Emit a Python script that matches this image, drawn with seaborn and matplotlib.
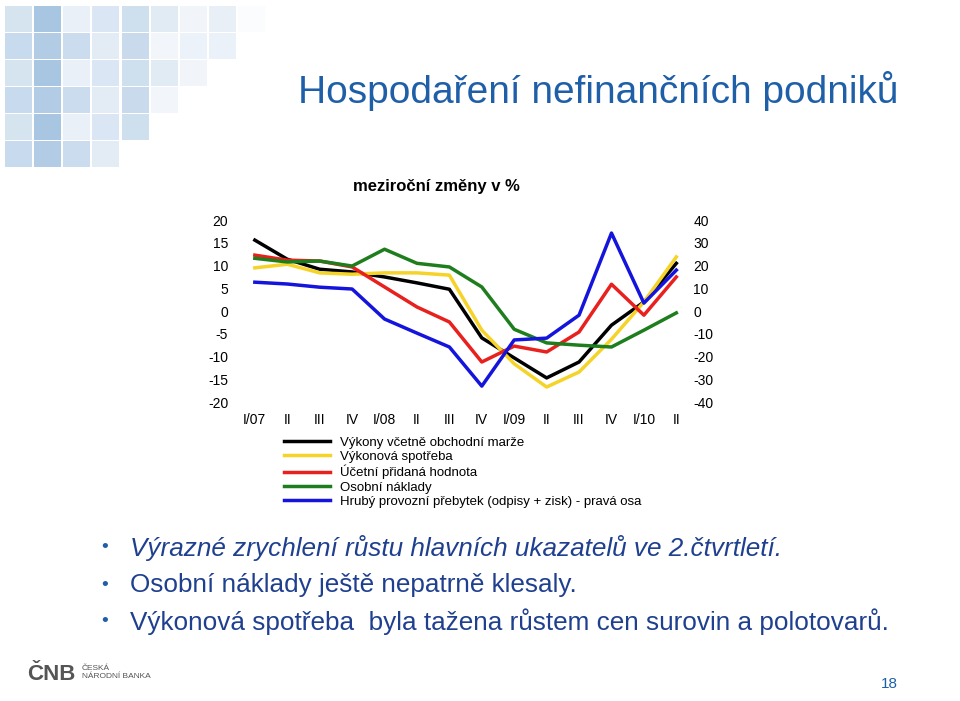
import matplotlib
matplotlib.use("Agg")
import matplotlib.pyplot as plt
import seaborn as sns
from matplotlib.patches import Rectangle

quarters = ["I/07","II","III","IV","I/08","II","III","IV","I/09","II","III","IV","I/10","II"]
vykony = [15.6,11.4,9.2,8.6,7.5,6.2,4.8,-5.9,-10.3,-14.7,-11.2,-3.1,2.0,10.5]
spotreba = [9.5,10.3,8.4,8.1,8.4,8.4,7.9,-4.2,-11.6,-16.7,-13.4,-6.2,2.0,11.9]
pridana = [12.3,11.2,11.0,9.7,5.3,0.9,-2.4,-11.2,-7.7,-9.0,-4.6,5.9,-0.9,7.5]
naklady = [11.6,10.8,11.0,9.9,13.6,10.5,9.7,5.3,-4.0,-7.0,-7.5,-7.9,-4.2,-0.4]
prebytek = [12.7,11.9,10.5,9.7,-3.5,-9.7,-15.8,-33.0,-12.7,-11.9,-1.8,34.3,3.5,18.0]

names = ["Výkony včetně obchodní marže","Výkonová spotřeba","Účetní přidaná hodnota","Osobní náklady",
         "Hrubý provozní přebytek (odpisy + zisk) - pravá osa"]
colors = ["#000000","#F5D328","#E8201E","#1E7E1E","#1414DC"]

plt.rcParams["font.family"] = "Liberation Sans"
plt.rcParams["axes.unicode_minus"] = False

fig = plt.figure(figsize=(9.6,7.01), dpi=100)

blues = ["#D6E4F0","#BCD3E8","#A9C6E2","#C8DBEE","#E3ECF6","#9DBEDE"]
sz = 27/960
for r in range(6):
    for c in range(9 - r):
        col = blues[(r*3 + c*5) % len(blues)]
        fig.add_artist(Rectangle((5/960 + c*sz*1.08, 1 - (5 + (r+1)*27*1.0)/701), sz, 26/701,
                                 transform=fig.transFigure, color=col, alpha=max(0.15, 1 - c*0.11), lw=0))
fig.text(0.31, 0.87, "Hospodaření nefinančních podniků", fontsize=28,
         color="#1F5FA8", va="center")
fig.text(0.455, 0.727, "meziroční změny v %", fontsize=12, fontweight="bold", ha="center")

ax = fig.add_axes([0.255, 0.4265, 0.462, 0.2595])
ax2 = ax.twinx()
x = list(range(len(quarters)))
for n, v, c in zip(names[:4], [vykony, spotreba, pridana, naklady], colors[:4]):
    sns.lineplot(x=x, y=v, ax=ax, color=c, lw=2.5, label=n, legend=False)
sns.lineplot(x=x, y=prebytek, ax=ax2, color=colors[4], lw=2.5, label=names[4], legend=False)
ax.set_ylim(-20, 20); ax2.set_ylim(-40, 40)
ax.set_yticks(range(-20, 21, 5)); ax2.set_yticks(range(-40, 41, 10))
ax.set_xlim(-0.31, 13.37)
ax.set_xticks(x); ax.set_xticklabels(quarters)
for a in (ax, ax2):
    for s in a.spines.values():
        s.set_visible(False)
    a.tick_params(length=0, labelsize=10)
ax.tick_params(axis="x", pad=8)
ax.tick_params(axis="y", pad=12)

handles = ax.get_lines()[:4] + ax2.get_lines()[:1]
fig.legend(handles, names, loc="upper left", bbox_to_anchor=(0.29, 0.385), frameon=False,
           fontsize=9.5, handlelength=3.5, labelspacing=0.15, borderaxespad=0)

bullets = ["Výrazné zrychlení růstu hlavních ukazatelů ve 2.čtvrtletí.",
           "Osobní náklady ještě nepatrně klesaly.",
           "Výkonová spotřeba  byla tažena růstem cen surovin a polotovarů."]
for i, b in enumerate(bullets):
    y = 1 - (548 + i*37)/701
    fig.text(0.105, y, "•", color="#1F5FA8", fontsize=14, va="center")
    fig.text(0.135, y, b, color="#1F3F8F", fontsize=18.8, va="center",
             fontstyle="italic" if i == 0 else "normal")
fig.text(0.028, 0.03, "ČNB", fontsize=16, fontweight="bold", color="#555555")
fig.text(0.085, 0.04, "ČESKÁ\nNÁRODNÍ BANKA", fontsize=6, color="#555555", va="center")
fig.text(0.918, 0.018, "18", fontsize=11, color="#1F5FA8")
fig.savefig("out.png", dpi=100)
